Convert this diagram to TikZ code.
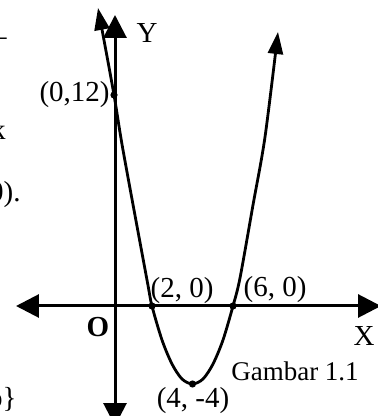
\documentclass[tikz,border=0pt]{standalone}
\usepackage{fontspec}
\setmainfont{Liberation Serif}
\usetikzlibrary{arrows.meta}

\begin{document}
\begin{tikzpicture}[x=0.5pt, y=0.5pt, >={Triangle[length=11.5pt, width=11.5pt]},
    font=\fontsize{14.5}{17}\selectfont]
    \useasboundingbox (-115,-110) rectangle (262,306);

    \draw[<->, line width=1.5pt] (-99,0) -- (266,0);
    \draw[<->, line width=1.5pt] (0,-120) -- (0,291);

    \draw[<->, line width=1.4pt, >={Triangle[length=11pt, width=7.5pt]}]
        plot[smooth, tension=0.5] coordinates {(-17,298) (-1,211) (8,156) (32,26) (37,0)
        (47,-34) (57,-58) (67,-73) (77.5,-78) (88,-73) (98,-58) (108,-34) (118,0)
        (125,28) (138,101) (150,169) (163,274)};

    \fill (-1,211) circle (1.8pt);
    \fill (37,0) circle (1.8pt);
    \fill (118,0) circle (1.8pt);
    \fill (77.5,-78) circle (1.8pt);

    \node[left, inner sep=2pt] (t012) at (-1,211) {(0,12)};
    \node (t20) at (67,15) {(2, 0)};
    \node (t60) at (160,16) {(6, 0)};
    \node (t44) at (78,-95) {(4, -4)};
    \node (ylab) at (32,273) {Y};
    \node (xlab) at (249,-30) {X};
    \node (olab) at (-17,-21) {\textbf{O}};
    \node[font=\fontsize{13.5}{16}\selectfont] (cap) at (180,-65) {Gambar 1.1};

    % potongan teks di tepi kiri
    \node[anchor=base east, inner sep=0pt] (f1) at (-108,260) {–};
    \node[anchor=base east, inner sep=0pt] (f2) at (-109,166) {k};
    \node[anchor=base east, inner sep=0pt] (f3) at (-94,104) {0).};
    \node[anchor=base east, inner sep=0pt] (f4) at (-98,-101) {o\}};
\end{tikzpicture}
\end{document}
